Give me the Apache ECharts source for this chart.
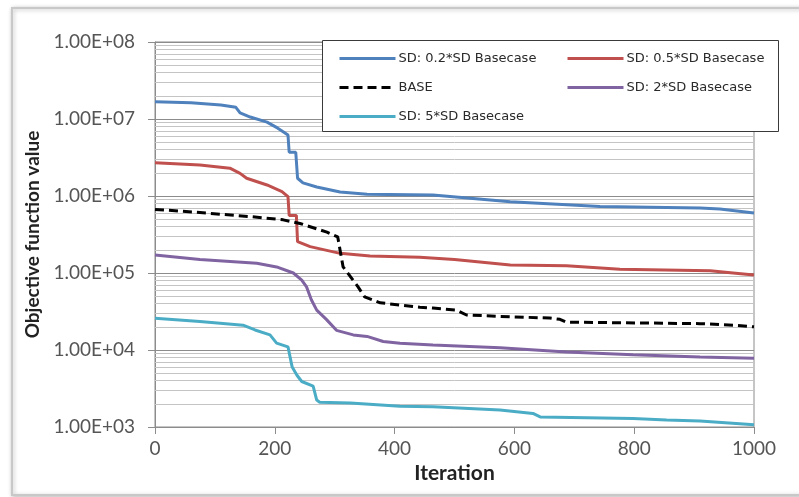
<!DOCTYPE html>
<html>
<head>
<meta charset="utf-8">
<script src="https://cdn.jsdelivr.net/npm/echarts@6/dist/echarts.min.js"></script>
<style>
  html, body { margin: 0; padding: 0; background: #ffffff; }
  #chart { width: 799px; height: 497px; }
</style>
</head>
<body>
<div id="chart"></div>
<script>
// Objective function value vs. iteration, one line per standard-deviation case.
// Each series is a list of [iteration, objective value] pairs.
const sd02 = [
  [0, 1.68e7], [60, 1.62e7], [110, 1.52e7], [135, 1.42e7], [142, 1.2e7],
  [159, 1.06e7], [187, 9.1e6], [205, 7.6e6], [217, 6.6e6], [222, 6.2e6],
  [224, 3.7e6], [235, 3.7e6], [238, 1.7e6], [247, 1.48e6], [270, 1.31e6],
  [309, 1.13e6], [354, 1.05e6], [464, 1.03e6], [593, 8.4e5], [743, 7.3e5],
  [910, 7.0e5], [943, 6.8e5], [1000, 6.0e5]
];
const sd05 = [
  [0, 2.7e6], [75, 2.53e6], [125, 2.3e6], [142, 1.97e6], [153, 1.7e6],
  [187, 1.39e6], [212, 1.14e6], [222, 9.8e5], [224, 5.6e5], [236, 5.6e5],
  [238, 2.55e5], [259, 2.2e5], [309, 1.8e5], [359, 1.66e5], [442, 1.6e5],
  [500, 1.5e5], [593, 1.27e5], [687, 1.24e5], [776, 1.12e5], [927, 1.07e5],
  [965, 1.0e5], [1000, 9.4e4]
];
const base = [
  [0, 6.7e5], [75, 6.1e5], [159, 5.4e5], [214, 4.9e5], [242, 4.4e5],
  [287, 3.4e5], [305, 2.95e5], [314, 1.2e5], [339, 6.6e4], [350, 4.9e4],
  [376, 4.1e4], [442, 3.6e4], [464, 3.5e4], [503, 3.3e4], [520, 2.85e4],
  [593, 2.7e4], [659, 2.6e4], [676, 2.5e4], [687, 2.3e4], [910, 2.2e4],
  [965, 2.1e4], [1000, 2.0e4]
];
const sd2 = [
  [0, 1.71e5], [75, 1.5e5], [170, 1.34e5], [203, 1.2e5], [231, 1.0e5],
  [245, 8.1e4], [253, 6.6e4], [261, 4.5e4], [270, 3.3e4], [286, 2.5e4],
  [303, 1.8e4], [331, 1.57e4], [354, 1.5e4], [381, 1.29e4], [409, 1.22e4],
  [464, 1.16e4], [576, 1.07e4], [687, 9.4e3], [798, 8.7e3], [910, 8.1e3],
  [1000, 7.8e3]
];
const sd5 = [
  [0, 2.58e4], [75, 2.35e4], [147, 2.1e4], [167, 1.82e4], [192, 1.57e4],
  [203, 1.23e4], [222, 1.1e4], [229, 6.0e3], [237, 4.7e3], [245, 3.9e3],
  [264, 3.4e3], [270, 2.24e3], [275, 2.1e3], [326, 2.05e3], [409, 1.86e3],
  [464, 1.83e3], [576, 1.66e3], [631, 1.5e3], [643, 1.35e3], [798, 1.29e3],
  [854, 1.23e3], [910, 1.2e3], [1000, 1.07e3]
];

const seriesNames = [
  'SD: 0.2*SD Basecase', 'SD: 0.5*SD Basecase', 'BASE',
  'SD: 2*SD Basecase', 'SD: 5*SD Basecase'
];
const seriesData = [sd02, sd05, base, sd2, sd5];
const seriesColors = ['#4f81bd', '#c0504d', '#000000', '#8064a2', '#4bacc6'];

// Axis settings
const xTicks = { min: 0, max: 1000, interval: 200 };
const yDecades = [3, 4, 5, 6, 7, 8];

// Minor log gridlines (2..9 within each decade)
const minorLevels = [];
for (let d = yDecades[0]; d < yDecades[yDecades.length - 1]; d++) {
  for (let m = 2; m <= 9; m++) minorLevels.push(m * Math.pow(10, d));
}

const FONT = 'Lato, "Open Sans", sans-serif';
const LEGEND_FONT = '"DejaVu Sans", Verdana, sans-serif';

function sciLabel(v) {
  const e = Math.round(Math.log10(v));
  const m = v / Math.pow(10, e);
  const es = (e < 10 ? '0' : '') + e;
  return m.toFixed(2) + 'E+' + es;
}

const series = seriesNames.map((name, i) => {
  const s = {
    name: name,
    type: 'line',
    data: seriesData[i],
    symbol: 'none',
    smooth: false,
    z: 3,
    lineStyle: {
      color: seriesColors[i],
      width: 3,
      type: name === 'BASE' ? [9, 5] : 'solid'
    },
    itemStyle: { color: seriesColors[i] },
    emphasis: { disabled: true }
  };
  if (i === 0) {
    s.markLine = {
      silent: true,
      symbol: ['none', 'none'],
      z: 1,
      label: { show: false },
      lineStyle: { color: '#c4c4c4', width: 1, type: 'solid' },
      emphasis: { disabled: true },
      data: minorLevels.map(v => ({ yAxis: v }))
    };
  }
  return s;
});

const legendCommon = {
  orient: 'vertical',
  top: 47,
  itemWidth: 56, itemHeight: 14, itemGap: 16,
  selectedMode: false,
  z: 4,
  itemStyle: { opacity: 0 },
  lineStyle: { width: 3 },
  textStyle: { fontFamily: LEGEND_FONT, fontSize: 13, color: '#2a2a2a', padding: [0, 0, 0, -2] }
};

const chart = echarts.init(document.getElementById('chart'), null, { renderer: 'canvas' });
chart.setOption({
  animation: false,
  backgroundColor: '#ffffff',
  graphic: [
    {
      type: 'rect',
      z: -1,
      shape: { x: 12, y: 8, width: 810, height: 487 },
      style: {
        fill: '#ffffff',
        stroke: '#c8c8c8',
        lineWidth: 2,
        shadowBlur: 4,
        shadowColor: 'rgba(0,0,0,0.25)',
        shadowOffsetX: 1,
        shadowOffsetY: 1
      }
    },
    {
      type: 'rect',
      z: 3,
      shape: { x: 322.5, y: 40.5, width: 456, height: 91 },
      style: { fill: '#ffffff', stroke: '#3a3a3a', lineWidth: 1 }
    }
  ],
  grid: {
    left: 155, right: 45, top: 42, bottom: 70,
    show: true,
    borderColor: '#8c8c8c',
    borderWidth: 1,
    backgroundColor: 'transparent'
  },
  legend: [
    Object.assign({}, legendCommon, {
      data: [seriesNames[0], seriesNames[2], seriesNames[4]],
      left: 333
    }),
    Object.assign({}, legendCommon, {
      data: [seriesNames[1], seriesNames[3]],
      left: 561
    })
  ],
  xAxis: {
    type: 'value',
    min: xTicks.min, max: xTicks.max, interval: xTicks.interval,
    name: 'Iteration',
    nameLocation: 'middle',
    nameGap: 27,
    nameTextStyle: { fontFamily: FONT, fontSize: 21, fontWeight: 'bold', color: '#222222' },
    axisLine: { show: true, onZero: false, lineStyle: { color: '#8c8c8c', width: 1 } },
    axisTick: { show: true, inside: false, length: 7, lineStyle: { color: '#8c8c8c' } },
    axisLabel: { fontFamily: FONT, fontSize: 19, color: '#555555', margin: 12, formatter: v => String(v) },
    splitLine: { show: false }
  },
  yAxis: {
    type: 'log',
    logBase: 10,
    min: Math.pow(10, yDecades[0]),
    max: Math.pow(10, yDecades[yDecades.length - 1]),
    name: 'Objective function value',
    nameLocation: 'middle',
    nameGap: 103,
    nameRotate: 90,
    nameTextStyle: { fontFamily: FONT, fontSize: 19, fontWeight: 'bold', color: '#222222' },
    axisLine: { show: true, lineStyle: { color: '#8c8c8c', width: 1 } },
    axisTick: { show: true, inside: false, length: 7, lineStyle: { color: '#8c8c8c' } },
    axisLabel: { fontFamily: FONT, fontSize: 19, color: '#555555', margin: 20, formatter: sciLabel },
    splitLine: { show: true, lineStyle: { color: '#8c8c8c', width: 1 } },
    minorTick: { show: false },
    minorSplitLine: { show: false }
  },
  series: series
});
</script>
</body>
</html>
